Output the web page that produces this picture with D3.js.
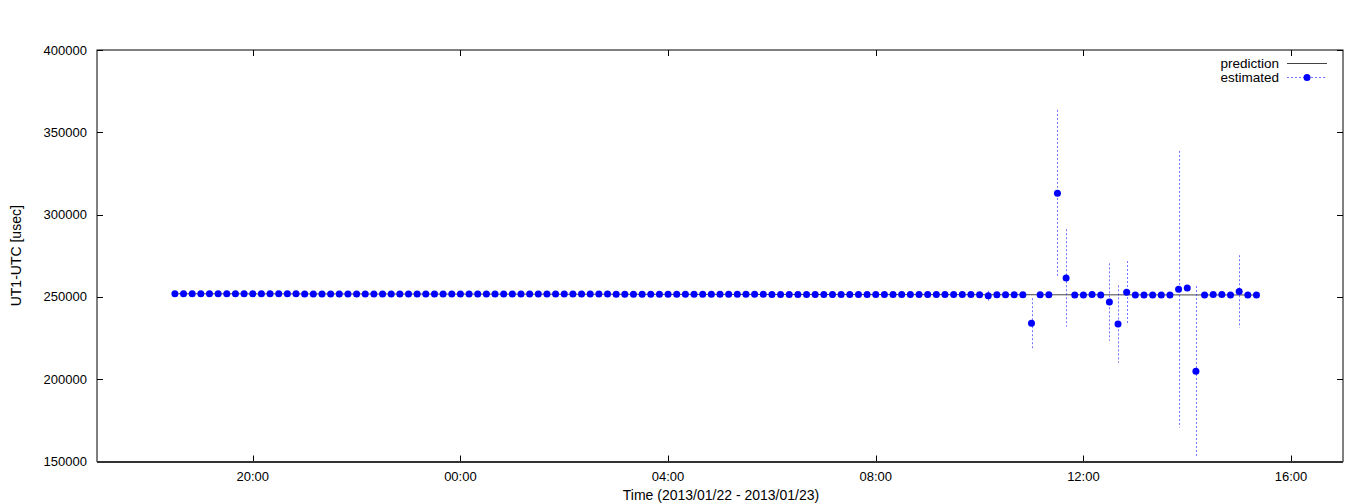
<!DOCTYPE html>
<html><head><meta charset="utf-8">
<script src="https://cdn.jsdelivr.net/npm/d3@7"></script>
<style>
html,body{margin:0;padding:0;background:#fff;}
svg text{font-family:"Liberation Sans",Arial,Helvetica,sans-serif;fill:#000;}
</style></head>
<body><svg id="c" width="1368" height="504"></svg>
<script>
// ---- data ----
const xDomain = ["2013-01-22T17:00", "2013-01-23T17:00"];
const xTickLabels = ["20:00", "00:00", "04:00", "08:00", "12:00", "16:00"];
const xTickTimes = ["2013-01-22T20:00", "2013-01-23T00:00", "2013-01-23T04:00", "2013-01-23T08:00", "2013-01-23T12:00", "2013-01-23T16:00"];
const yTicks = [150000, 200000, 250000, 300000, 350000, 400000];

const times = [
  "2013-01-22T18:30","2013-01-22T18:40","2013-01-22T18:50",
  "2013-01-22T19:00","2013-01-22T19:10","2013-01-22T19:20","2013-01-22T19:30","2013-01-22T19:40","2013-01-22T19:50",
  "2013-01-22T20:00","2013-01-22T20:10","2013-01-22T20:20","2013-01-22T20:30","2013-01-22T20:40","2013-01-22T20:50",
  "2013-01-22T21:00","2013-01-22T21:10","2013-01-22T21:20","2013-01-22T21:30","2013-01-22T21:40","2013-01-22T21:50",
  "2013-01-22T22:00","2013-01-22T22:10","2013-01-22T22:20","2013-01-22T22:30","2013-01-22T22:40","2013-01-22T22:50",
  "2013-01-22T23:00","2013-01-22T23:10","2013-01-22T23:20","2013-01-22T23:30","2013-01-22T23:40","2013-01-22T23:50",
  "2013-01-23T00:00","2013-01-23T00:10","2013-01-23T00:20","2013-01-23T00:30","2013-01-23T00:40","2013-01-23T00:50",
  "2013-01-23T01:00","2013-01-23T01:10","2013-01-23T01:20","2013-01-23T01:30","2013-01-23T01:40","2013-01-23T01:50",
  "2013-01-23T02:00","2013-01-23T02:10","2013-01-23T02:20","2013-01-23T02:30","2013-01-23T02:40","2013-01-23T02:50",
  "2013-01-23T03:00","2013-01-23T03:10","2013-01-23T03:20","2013-01-23T03:30","2013-01-23T03:40","2013-01-23T03:50",
  "2013-01-23T04:00","2013-01-23T04:10","2013-01-23T04:20","2013-01-23T04:30","2013-01-23T04:40","2013-01-23T04:50",
  "2013-01-23T05:00","2013-01-23T05:10","2013-01-23T05:20","2013-01-23T05:30","2013-01-23T05:40","2013-01-23T05:50",
  "2013-01-23T06:00","2013-01-23T06:10","2013-01-23T06:20","2013-01-23T06:30","2013-01-23T06:40","2013-01-23T06:50",
  "2013-01-23T07:00","2013-01-23T07:10","2013-01-23T07:20","2013-01-23T07:30","2013-01-23T07:40","2013-01-23T07:50",
  "2013-01-23T08:00","2013-01-23T08:10","2013-01-23T08:20","2013-01-23T08:30","2013-01-23T08:40","2013-01-23T08:50",
  "2013-01-23T09:00","2013-01-23T09:10","2013-01-23T09:20","2013-01-23T09:30","2013-01-23T09:40","2013-01-23T09:50",
  "2013-01-23T10:00","2013-01-23T10:10","2013-01-23T10:20","2013-01-23T10:30","2013-01-23T10:40","2013-01-23T10:50",
  "2013-01-23T11:00","2013-01-23T11:10","2013-01-23T11:20","2013-01-23T11:30","2013-01-23T11:40","2013-01-23T11:50",
  "2013-01-23T12:00","2013-01-23T12:10","2013-01-23T12:20","2013-01-23T12:30","2013-01-23T12:40","2013-01-23T12:50",
  "2013-01-23T13:00","2013-01-23T13:10","2013-01-23T13:20","2013-01-23T13:30","2013-01-23T13:40","2013-01-23T13:50",
  "2013-01-23T14:00","2013-01-23T14:10","2013-01-23T14:20","2013-01-23T14:30","2013-01-23T14:40","2013-01-23T14:50",
  "2013-01-23T15:00","2013-01-23T15:10","2013-01-23T15:20"
];

const estimated = [
  251900,251900,251900,
  251900,251900,251900,251900,251900,251900,
  251900,251900,251900,251900,251900,251900,
  251800,251800,251800,251800,251800,251800,
  251800,251800,251800,251800,251800,251800,
  251800,251800,251800,251800,251800,251800,
  251700,251700,251700,251700,251700,251700,
  251700,251700,251700,251700,251700,251700,
  251700,251700,251700,251700,251700,251700,
  251600,251600,251600,251600,251600,251600,
  251600,251600,251600,251600,251600,251600,
  251600,251600,251600,251600,251600,251600,
  251500,251500,251500,251500,251500,251500,
  251500,251500,251500,251500,251500,251500,
  251500,251500,251500,251500,251500,251500,
  251400,251400,251400,251400,251400,251400,
  251300,250700,251300,251300,251300,251300,
  234000,251300,251300,313000,261500,251200,
  251200,251500,251200,246900,233500,252900,
  251200,251200,251200,251200,251200,254700,
  255400,204800,251200,251500,251500,251200,
  253300,251100,251100
];

const errors = [
  0,0,0,
  0,0,0,0,0,0,
  0,0,0,0,0,0,
  0,0,0,0,0,0,
  0,0,0,0,0,0,
  0,0,0,0,0,0,
  0,0,0,0,0,0,
  0,0,0,0,0,0,
  0,0,0,0,0,0,
  0,0,0,0,0,0,
  0,0,0,0,0,0,
  0,0,0,0,0,0,
  0,0,0,0,0,0,
  0,0,0,0,0,0,
  0,0,0,0,0,0,
  0,0,0,0,0,0,
  0,3000,0,0,0,0,
  15200,0,0,50600,29600,0,
  0,0,0,23500,23500,18900,
  0,0,0,0,0,84000,
  0,51800,0,0,0,0,
  22000,0,0
];

const predictionTimes = ["2013-01-22T18:30", "2013-01-23T15:20"];
const predictionValues = [251900, 251150];

// ---- chart ----
const parse = d3.isoParse;
const m = {left: 97, right: 1343, top: 50, bottom: 461.5};
const svg = d3.select("#c");

const x = d3.scaleTime().domain(xDomain.map(parse)).range([m.left, m.right]);
const y = d3.scaleLinear().domain([150000, 400000]).range([m.bottom, m.top]);

const blue = "#0000ff";
const tickLen = 6;

// Frame
svg.append("rect").attr("x", m.left).attr("y", m.top)
  .attr("width", m.right - m.left).attr("height", m.bottom - m.top)
  .attr("fill", "none").attr("stroke", "#000").attr("stroke-width", 1);

// Y ticks (left & mirrored right)
const yg = svg.append("g");
yTicks.forEach(v => {
  const yy = Math.round(y(v)) + 0.5;
  yg.append("line").attr("x1", m.left).attr("x2", m.left + tickLen).attr("y1", yy).attr("y2", yy).attr("stroke", "#000");
  yg.append("line").attr("x1", m.right - tickLen).attr("x2", m.right).attr("y1", yy).attr("y2", yy).attr("stroke", "#000");
  yg.append("text").attr("x", m.left - 10).attr("y", y(v)).attr("dy", "0.35em")
    .attr("text-anchor", "end").attr("font-size", 13).text(d3.format("d")(v));
});

// X ticks (bottom & mirrored top)
const xg = svg.append("g");
xTickTimes.forEach((t, i) => {
  const xx = Math.round(x(parse(t))) + 0.5;
  xg.append("line").attr("x1", xx).attr("x2", xx).attr("y1", m.bottom).attr("y2", m.bottom - tickLen).attr("stroke", "#000");
  xg.append("line").attr("x1", xx).attr("x2", xx).attr("y1", m.top).attr("y2", m.top + tickLen).attr("stroke", "#000");
  xg.append("text").attr("x", x(parse(t))).attr("y", m.bottom + 19)
    .attr("text-anchor", "middle").attr("font-size", 13).text(xTickLabels[i]);
});

// Bottom axis slightly heavier like reference
svg.append("line").attr("x1", m.left).attr("x2", m.right).attr("y1", m.bottom + 0.5).attr("y2", m.bottom + 0.5)
  .attr("stroke", "#333").attr("stroke-width", 2);

// Axis titles
svg.append("text").attr("x", 721).attr("y", 500)
  .attr("text-anchor", "middle").attr("font-size", 14).text("Time (2013/01/22 - 2013/01/23)");
svg.append("text").attr("transform", `translate(21,${(m.top + m.bottom) / 2}) rotate(-90)`)
  .attr("text-anchor", "middle").attr("font-size", 14).text("UT1-UTC [usec]");

// Prediction line
const predData = predictionTimes.map((t, i) => ({t: parse(t), v: predictionValues[i]}));
svg.append("path").datum(predData)
  .attr("d", d3.line().x(d => x(d.t)).y(d => y(d.v)))
  .attr("fill", "none").attr("stroke", "#444").attr("stroke-width", 1);

// Estimated data
const est = times.map((t, i) => ({t: parse(t), v: estimated[i], e: errors[i]}));

svg.append("g").selectAll("line").data(est.filter(d => d.e > 0)).join("line")
  .attr("x1", d => Math.round(x(d.t)) + 0.5).attr("x2", d => Math.round(x(d.t)) + 0.5)
  .attr("y1", d => y(d.v + d.e)).attr("y2", d => y(d.v - d.e))
  .attr("stroke", blue).attr("stroke-opacity", 0.55).attr("stroke-width", 1).attr("stroke-dasharray", "2,2");

svg.append("g").selectAll("circle").data(est).join("circle")
  .attr("cx", d => x(d.t)).attr("cy", d => y(d.v)).attr("r", 3.5).attr("fill", blue);

// Legend
const lg = svg.append("g");
lg.append("text").attr("x", 1279).attr("y", 63).attr("dy", "0.35em").attr("text-anchor", "end")
  .attr("font-size", 13.5).text("prediction");
lg.append("line").attr("x1", 1287).attr("x2", 1327).attr("y1", 63.5).attr("y2", 63.5).attr("stroke", "#444");
lg.append("text").attr("x", 1279).attr("y", 77).attr("dy", "0.35em").attr("text-anchor", "end")
  .attr("font-size", 13.5).text("estimated");
lg.append("line").attr("x1", 1287).attr("x2", 1327).attr("y1", 77.5).attr("y2", 77.5)
  .attr("stroke", blue).attr("stroke-opacity", 0.55).attr("stroke-dasharray", "2,2");
lg.append("circle").attr("cx", 1307).attr("cy", 77.5).attr("r", 3.5).attr("fill", blue);
</script>
</body></html>
